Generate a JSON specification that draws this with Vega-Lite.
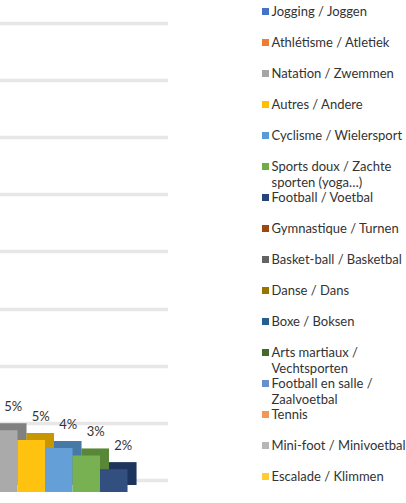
{
  "$schema": "https://vega.github.io/schema/vega-lite/v6.json",
  "padding": {"left": -65, "top": 0, "right": 0, "bottom": 0},
  "background": "white",
  "datasets": {
    "sports": [
      {"sport": "Jogging / Joggen", "pct": 0.36},
      {"sport": "Athlétisme / Atletiek", "pct": 0.06},
      {"sport": "Natation / Zwemmen", "pct": 0.054},
      {"sport": "Autres / Andere", "pct": 0.0455},
      {"sport": "Cyclisme / Wielersport", "pct": 0.0385},
      {"sport": "Sports doux / Zachte\nsporten (yoga…)", "pct": 0.032},
      {"sport": "Football / Voetbal", "pct": 0.02},
      {"sport": "Gymnastique / Turnen", "pct": null},
      {"sport": "Basket-ball / Basketbal", "pct": null},
      {"sport": "Danse / Dans", "pct": null},
      {"sport": "Boxe / Boksen", "pct": null},
      {"sport": "Arts martiaux /\nVechtsporten", "pct": null},
      {"sport": "Football en salle /\nZaalvoetbal", "pct": null},
      {"sport": "Tennis", "pct": null},
      {"sport": "Mini-foot / Minivoetbal", "pct": null},
      {"sport": "Escalade / Klimmen", "pct": null}
    ]
  },
  "data": {"name": "sports"},
  "spacing": 94,
  "hconcat": [
    {
      "width": 232.5,
      "height": 480,
      "transform": [{"filter": "isValid(datum.pct)"}],
      "encoding": {
        "x": {"field": "sport", "type": "nominal", "sort": null, "axis": null,
              "scale": {"paddingInner": 0, "paddingOuter": 0.727, "align": 0}},
        "y": {"field": "pct", "type": "quantitative",
              "scale": {"domain": [0, 0.42], "nice": false},
              "axis": {"values": [0, 0.05, 0.1, 0.15, 0.2, 0.25, 0.3, 0.35, 0.4],
                       "labels": false, "ticks": false, "domain": false, "title": null,
                       "gridColor": "#e7e7e7", "gridWidth": 3.5}}
      },
      "layer": [
        {"mark": {"type": "bar", "xOffset": 9, "x2Offset": 9, "yOffset": 5, "y2Offset": 5},
         "encoding": {"color": {"field": "sport", "type": "nominal", "legend": null,
           "scale": {"domain": ["Jogging / Joggen", "Athlétisme / Atletiek", "Natation / Zwemmen", "Autres / Andere", "Cyclisme / Wielersport", "Sports doux / Zachte\nsporten (yoga…)", "Football / Voetbal", "Gymnastique / Turnen", "Basket-ball / Basketbal", "Danse / Dans", "Boxe / Boksen", "Arts martiaux /\nVechtsporten", "Football en salle /\nZaalvoetbal", "Tennis", "Mini-foot / Minivoetbal", "Escalade / Klimmen"],
                     "range": ["#4472C4", "#ED7D31", "#A5A5A5", "#FFC000", "#5B9BD5", "#70AD47", "#264478", "#9E480E", "#636363", "#997300", "#255E91", "#43682B", "#698ED0", "#F1975A", "#B7B7B7", "#FFCD33"]}}}},
        {"mark": {"type": "bar", "xOffset": 9, "x2Offset": 9, "yOffset": 5, "y2Offset": 5, "color": "black", "opacity": 0.22}},
        {"mark": {"type": "bar", "yOffset": 12, "y2Offset": 12},
         "encoding": {"color": {"field": "sport", "type": "nominal", "legend": null}}},
        {"mark": {"type": "bar", "yOffset": 12, "y2Offset": 12, "color": "white", "opacity": 0.06}},
        {"mark": {"type": "text", "dx": 9.5, "dy": -11, "font": "Lato", "fontSize": 13, "color": "#333333"},
         "encoding": {"text": {"field": "pct", "type": "quantitative", "format": ".0%"}}}
      ]
    },
    {
      "width": 1,
      "height": 488,
      "encoding": {
        "y": {"field": "sport", "type": "nominal", "sort": null, "axis": null,
              "scale": {"type": "point", "padding": 0.371}}
      },
      "layer": [
        {"mark": {"type": "square", "size": 49, "opacity": 1},
         "encoding": {"color": {"field": "sport", "type": "nominal", "legend": null}}},
        {"mark": {"type": "text", "align": "left", "baseline": "alphabetic", "dx": 6, "dy": 4.5,
                  "font": "Lato", "fontSize": 13, "color": "#333333", "lineBreak": "\n", "lineHeight": 16},
         "encoding": {"text": {"field": "sport", "type": "nominal"}}}
      ]
    }
  ],
  "config": {"view": {"stroke": null}}
}
